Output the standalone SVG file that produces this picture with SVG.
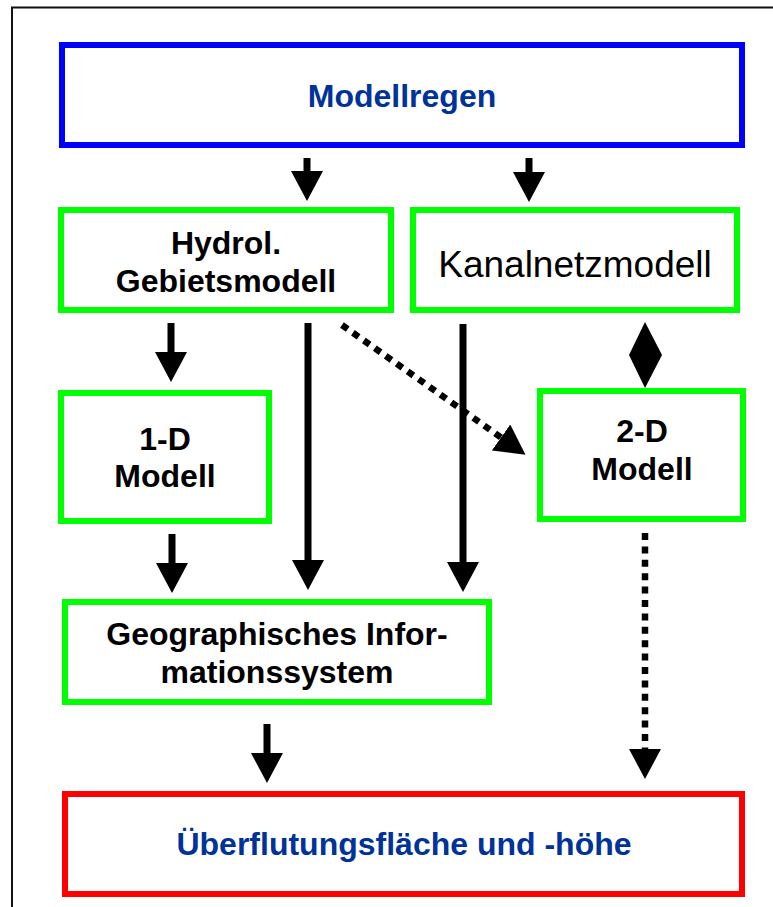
<svg xmlns="http://www.w3.org/2000/svg" width="773" height="907" viewBox="0 0 773 907">
  <style>
    .box { fill: #ffffff; stroke-width: 6; }
    .green { stroke: #00ff00; }
    .t { font-family: "Liberation Sans", Arial, sans-serif; font-weight: bold; font-size: 32px; fill: #000000; text-anchor: middle; }
    .blue-t { fill: #003399; font-size: 32px; }
    .reg { font-weight: normal; font-size: 37px; }
    .shaft { stroke: #000000; stroke-width: 7; fill: none; }
    .dot { stroke: #000000; stroke-width: 6.5; fill: none; stroke-dasharray: 7 6.4; }
  </style>
  <defs>
    <marker id="head" viewBox="0 0 30 32" markerWidth="30" markerHeight="32" refX="0" refY="16" orient="auto" markerUnits="userSpaceOnUse">
      <path d="M0,0 L30,16 L0,32 Z" fill="#000000"/>
    </marker>
  </defs>
  <rect x="0" y="0" width="773" height="907" fill="#ffffff"/>
  <path d="M12,907 V7.5 H773" fill="none" stroke="#111111" stroke-width="2"/>

  <g id="modellregen">
    <rect class="box" x="62" y="45" width="680" height="100" stroke="#0000ff"/>
    <text class="t blue-t" x="402" y="107">Modellregen</text>
  </g>
  <g id="hydrol">
    <rect class="box green" x="61" y="210" width="330" height="100"/>
    <text class="t" x="226" y="254">Hydrol.</text>
    <text class="t" x="226" y="292">Gebietsmodell</text>
  </g>
  <g id="kanalnetz">
    <rect class="box green" x="413" y="210" width="324" height="100"/>
    <text class="t reg" x="575" y="277">Kanalnetzmodell</text>
  </g>
  <g id="modell1d">
    <rect class="box green" x="61" y="393" width="208" height="128"/>
    <text class="t" x="165" y="450">1-D</text>
    <text class="t" x="165" y="487">Modell</text>
  </g>
  <g id="modell2d">
    <rect class="box green" x="540" y="391" width="203" height="128"/>
    <text class="t" x="642" y="442">2-D</text>
    <text class="t" x="642" y="480">Modell</text>
  </g>
  <g id="gis">
    <rect class="box green" x="65" y="602" width="424" height="100"/>
    <text class="t" x="277" y="645">Geographisches Infor-</text>
    <text class="t" x="277" y="683">mationssystem</text>
  </g>
  <g id="ergebnis">
    <rect class="box" x="65" y="794" width="677" height="100" stroke="#ff0000"/>
    <text class="t blue-t" x="404" y="855">Überflutungsfläche und -höhe</text>
  </g>

  <g id="connectors">
    <line class="shaft" x1="307" y1="158" x2="307" y2="171" marker-end="url(#head)"/>
    <line class="shaft" x1="529" y1="158" x2="529" y2="172" marker-end="url(#head)"/>
    <line class="shaft" x1="171" y1="323" x2="171" y2="352" marker-end="url(#head)"/>
    <line class="shaft" x1="172" y1="534" x2="172" y2="563" marker-end="url(#head)"/>
    <line class="shaft" x1="308" y1="323" x2="308" y2="560" marker-end="url(#head)"/>
    <line class="shaft" x1="463" y1="324" x2="463" y2="562" marker-end="url(#head)"/>
    <line class="shaft" x1="267" y1="724" x2="267" y2="753" marker-end="url(#head)"/>
    <line class="dot" x1="645" y1="533" x2="645" y2="749" marker-end="url(#head)"/>
    <line class="dot" x1="342" y1="325" x2="501" y2="437.5" marker-end="url(#head)"/>
    <path d="M645,322 L662,355 L645,388 L629,355 Z" fill="#000000"/>
  </g>
</svg>
